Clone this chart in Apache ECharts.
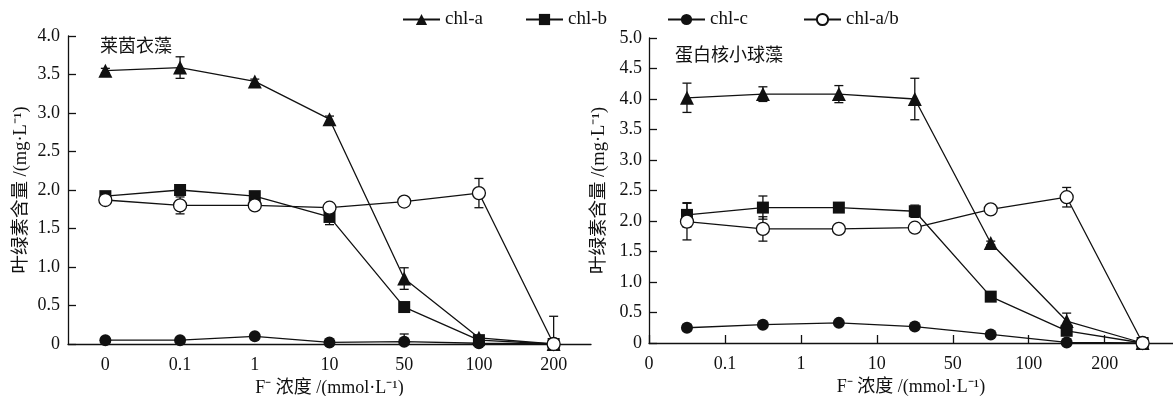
<!DOCTYPE html>
<html>
<head>
<meta charset="utf-8">
<script src="https://cdn.jsdelivr.net/npm/echarts@6/dist/echarts.min.js"></script>
<style>
  html, body { margin: 0; padding: 0; background: #fff; }
  #chart { width: 1173px; height: 396px; }
</style>
</head>
<body>
<div id="chart"></div>
<script>
// F- concentration (mmol/L)
const concLabels = ["0", "0.1", "1", "10", "50", "100", "200"];

// 莱茵衣藻 (left panel)
const chlaL = [3.55, 3.59, 3.41, 2.92, 0.85, 0.08, 0];
const chlaLErr = [0.03, 0.14, 0.03, 0.04, 0.14, 0.03, 0];
const chlbL = [1.92, 2.0, 1.92, 1.65, 0.48, 0.05, 0];
const chlbLErr = [0.03, 0.03, 0.03, 0.1, 0.03, 0.02, 0];
const chlcL = [0.05, 0.05, 0.1, 0.02, 0.03, 0.01, 0];
const chlcLErr = [0.02, 0.02, 0.02, 0.02, 0.1, 0.01, 0];
const abL = [1.87, 1.8, 1.8, 1.77, 1.85, 1.96, 0];
const abLErr = [0.02, 0.11, 0.03, 0.03, 0.02, 0.19, 0.36];

// 蛋白核小球藻 (right panel)
const chlaR = [4.02, 4.08, 4.08, 4.0, 1.64, 0.36, 0];
const chlaRErr = [0.24, 0.12, 0.14, 0.34, 0.03, 0.13, 0];
const chlbR = [2.1, 2.22, 2.22, 2.16, 0.76, 0.2, 0];
const chlbRErr = [0.2, 0.19, 0.04, 0.1, 0.03, 0.03, 0];
const chlcR = [0.25, 0.3, 0.33, 0.27, 0.14, 0.01, 0];
const chlcRErr = [0.05, 0.03, 0.03, 0.03, 0.02, 0.02, 0];
const abR = [1.99, 1.87, 1.87, 1.89, 2.19, 2.39, 0];
const abRErr = [0.3, 0.2, 0.03, 0.03, 0.03, 0.16, 0.03];

const FONT = "'Liberation Serif', 'Noto Sans CJK SC', serif";
const INK = "#111";

const chart = echarts.init(document.getElementById("chart"), null, { renderer: "canvas" });

// marker styles per series name
const styles = {
  "chl-a": { symbol: "triangle", symbolSize: 14, itemStyle: { color: INK } },
  "chl-b": { symbol: "rect", symbolSize: 12, itemStyle: { color: INK } },
  "chl-c": { symbol: "circle", symbolSize: 12, itemStyle: { color: INK } },
  "chl-a/b": { symbol: "circle", symbolSize: 13, itemStyle: { color: "#fff", borderColor: INK, borderWidth: 1.3 } },
};

// right panel values sit between the ticks
const midX = (vals) => vals.map((v, i) => [i + 0.5, v]);
const catX = (vals) => vals.map((v, i) => [i, v]);

function lineSeries(name, data, idx) {
  return {
    name,
    type: "line",
    xAxisIndex: idx,
    yAxisIndex: idx,
    data,
    symbol: styles[name].symbol,
    symbolSize: styles[name].symbolSize,
    itemStyle: styles[name].itemStyle,
    lineStyle: { color: INK, width: 1.3 },
    z: 3,
    animation: false,
  };
}

function errSeries(vals, errs, idx, toX) {
  const data = vals.map((v, i) => [toX(i), v, errs[i]]);
  return {
    type: "custom",
    xAxisIndex: idx,
    yAxisIndex: idx,
    data,
    z: 2,
    silent: true,
    animation: false,
    renderItem: (params, api) => {
      const x = api.value(0), v = api.value(1), e = api.value(2);
      if (!e) return null;
      const lo = Math.max(0, v - e);
      const top = api.coord([x, v + e]);
      const bot = api.coord([x, lo]);
      const cap = 4.5;
      const style = { stroke: INK, lineWidth: 1.3 };
      const kids = [
        { type: "line", shape: { x1: top[0], y1: top[1], x2: bot[0], y2: bot[1] }, style },
        { type: "line", shape: { x1: top[0] - cap, y1: top[1], x2: top[0] + cap, y2: top[1] }, style },
      ];
      if (v - e > 0) {
        kids.push({ type: "line", shape: { x1: bot[0] - cap, y1: bot[1], x2: bot[0] + cap, y2: bot[1] }, style });
      }
      return { type: "group", children: kids };
    },
  };
}

const axisLine = { lineStyle: { color: INK, width: 1.3 } };
const labelStyle = { color: INK, fontFamily: FONT, fontSize: 18 };
const yName = "叶绿素含量 /(mg·L⁻¹)";
const xName = "F⁻ 浓度 /(mmol·L⁻¹)";
const yFmt = (v) => (v === 0 ? "0" : v.toFixed(1));

const legendAt = (name, left) => ({
  data: [name],
  left,
  top: 5,
  itemWidth: 37,
  itemHeight: 14,
  itemGap: 0,
  textStyle: { color: INK, fontFamily: FONT, fontSize: 19 },
  selectedMode: false,
});

const option = {
  backgroundColor: "#fff",
  animation: false,
  title: [
    { text: "莱茵衣藻", left: 95, top: 33, textStyle: { color: INK, fontFamily: FONT, fontSize: 18, fontWeight: "normal" } },
    { text: "蛋白核小球藻", left: 670, top: 42, textStyle: { color: INK, fontFamily: FONT, fontSize: 18, fontWeight: "normal" } },
  ],
  legend: [
    legendAt("chl-a", 397),
    legendAt("chl-b", 520),
    legendAt("chl-c", 662),
    legendAt("chl-a/b", 798),
  ],
  grid: [
    { left: 68, top: 36, width: 523, height: 308, outerBoundsMode: "none" },
    { left: 649, top: 38, right: 0, height: 305, outerBoundsMode: "none" },
  ],
  xAxis: [
    {
      type: "category",
      gridIndex: 0,
      data: concLabels,
      boundaryGap: true,
      axisLine,
      axisTick: { inside: true, length: 8, lineStyle: { color: INK, width: 1.3 } },
      axisLabel: { ...labelStyle, margin: 12 },
      name: xName,
      nameLocation: "middle",
      nameGap: 34,
      nameTextStyle: labelStyle,
    },
    {
      type: "value",
      gridIndex: 1,
      min: 0,
      max: 6.9,
      interval: 1,
      axisLine,
      splitLine: { show: false },
      axisTick: { inside: true, length: 8, customValues: [0, 1, 2, 3, 4, 5, 6], lineStyle: { color: INK, width: 1.3 } },
      axisLabel: {
        ...labelStyle,
        margin: 12,
        customValues: [0, 1, 2, 3, 4, 5, 6],
        formatter: (v) => concLabels[Math.round(v)] ?? "",
      },
      name: xName,
      nameLocation: "middle",
      nameGap: 34,
      nameTextStyle: labelStyle,
    },
  ],
  yAxis: [
    {
      type: "value",
      gridIndex: 0,
      min: 0,
      max: 4,
      interval: 0.5,
      axisLine: { show: true, ...axisLine },
      axisTick: { show: true, inside: true, length: 8, lineStyle: { color: INK, width: 1.3 } },
      splitLine: { show: false },
      axisLabel: { ...labelStyle, margin: 8, formatter: yFmt },
      name: yName,
      nameLocation: "middle",
      nameGap: 38,
      nameTextStyle: { ...labelStyle, fontSize: 18.5 },
    },
    {
      type: "value",
      gridIndex: 1,
      min: 0,
      max: 5,
      interval: 0.5,
      axisLine: { show: true, ...axisLine },
      axisTick: { show: true, inside: true, length: 8, lineStyle: { color: INK, width: 1.3 } },
      splitLine: { show: false },
      axisLabel: { ...labelStyle, margin: 7, formatter: yFmt },
      name: yName,
      nameLocation: "middle",
      nameGap: 41,
      nameTextStyle: { ...labelStyle, fontSize: 18.5 },
    },
  ],
  series: [
    errSeries(chlaL, chlaLErr, 0, (i) => i),
    errSeries(chlbL, chlbLErr, 0, (i) => i),
    errSeries(chlcL, chlcLErr, 0, (i) => i),
    errSeries(abL, abLErr, 0, (i) => i),
    lineSeries("chl-a", catX(chlaL), 0),
    lineSeries("chl-b", catX(chlbL), 0),
    lineSeries("chl-c", catX(chlcL), 0),
    lineSeries("chl-a/b", catX(abL), 0),

    errSeries(chlaR, chlaRErr, 1, (i) => i + 0.5),
    errSeries(chlbR, chlbRErr, 1, (i) => i + 0.5),
    errSeries(chlcR, chlcRErr, 1, (i) => i + 0.5),
    errSeries(abR, abRErr, 1, (i) => i + 0.5),
    lineSeries("chl-a", midX(chlaR), 1),
    lineSeries("chl-b", midX(chlbR), 1),
    lineSeries("chl-c", midX(chlcR), 1),
    lineSeries("chl-a/b", midX(abR), 1),
  ],
};

chart.setOption(option);
</script>
</body>
</html>
